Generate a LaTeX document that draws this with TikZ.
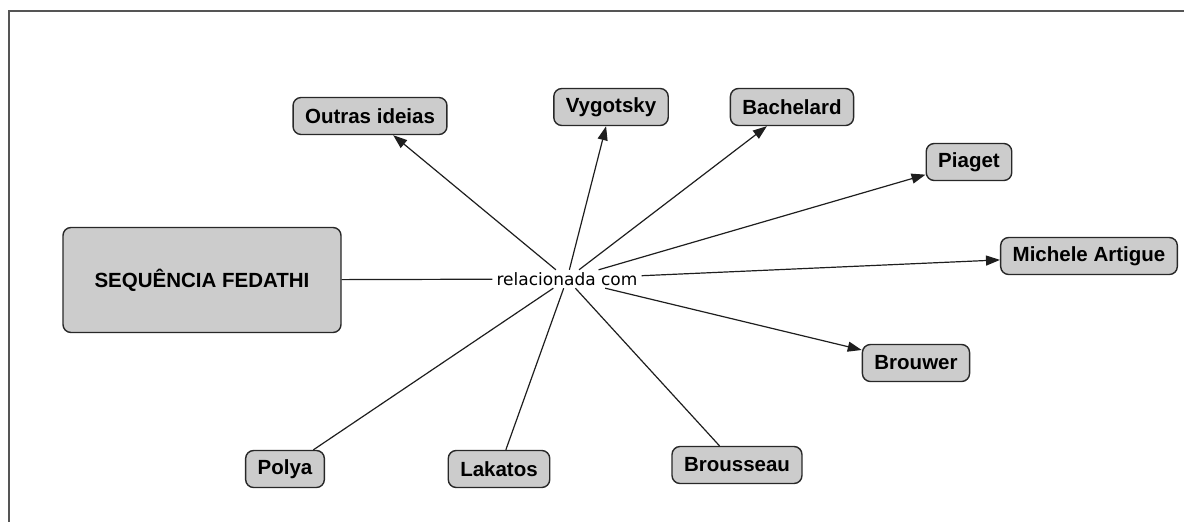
\documentclass[tikz,border=0pt]{standalone}
\usepackage{fontspec}
\setmainfont{Liberation Sans}
\newfontfamily\linkfont{DejaVu Sans}
\usetikzlibrary{arrows.meta}
\definecolor{conceptfill}{RGB}{204,204,204}
\definecolor{conceptline}{RGB}{40,40,40}
\definecolor{frameline}{RGB}{85,85,85}
\definecolor{connline}{RGB}{30,30,30}
\begin{document}
\begin{tikzpicture}[x=1pt,y=-1pt,
  concept/.style={draw=conceptline, fill=conceptfill, line width=1.4pt,
    rounded corners=8pt, font=\fontsize{20.5}{22}\selectfont\bfseries,
    inner xsep=12pt, inner ysep=0pt, minimum height=37pt},
  linkphrase/.style={font=\linkfont\fontsize{17}{19}\selectfont,
    inner xsep=4pt, inner ysep=0pt, minimum height=18pt},
  conn/.style={draw=connline, line width=1.2pt},
  arrow/.style={conn, -{Triangle[length=14pt,width=10pt]}}]
\useasboundingbox (0,0) rectangle (1184,522);
% outer frame (top and left edges)
\draw[frameline, line width=2pt] (9,522) -- (9,11) -- (1184,11);

% concepts
\node[concept, minimum width=278pt, minimum height=105pt] (seq) at (202,280) {SEQUÊNCIA FEDATHI};
\node[linkphrase] (rel) at (567,279) {relacionada com};
\node[concept] (outras) at (370,116) {Outras ideias};
\node[concept] (vyg) at (611,107) {Vygotsky};
\node[concept] (bach) at (792,107) {Bachelard};
\node[concept] (piaget) at (969,162) {Piaget};
\node[concept] (artigue) at (1089,256) {Michele Artigue};
\node[concept] (brouwer) at (916,363) {Brouwer};
\node[concept] (brousseau) at (737,465) {Brousseau};
\node[concept] (lakatos) at (499,469) {Lakatos};
\node[concept] (polya) at (285,469) {Polya};

% connectors
\draw[conn] (seq) -- (rel);
\draw[arrow] (rel) -- (outras);
\draw[arrow] (rel) -- (vyg);
\draw[arrow] (rel) -- (bach);
\draw[arrow] (rel) -- (piaget);
\draw[arrow] (rel) -- (artigue);
\draw[arrow] (rel) -- (brouwer);
\draw[conn] (rel) -- (brousseau);
\draw[conn] (rel) -- (lakatos);
\draw[conn] (rel) -- (polya);
\end{tikzpicture}
\end{document}
